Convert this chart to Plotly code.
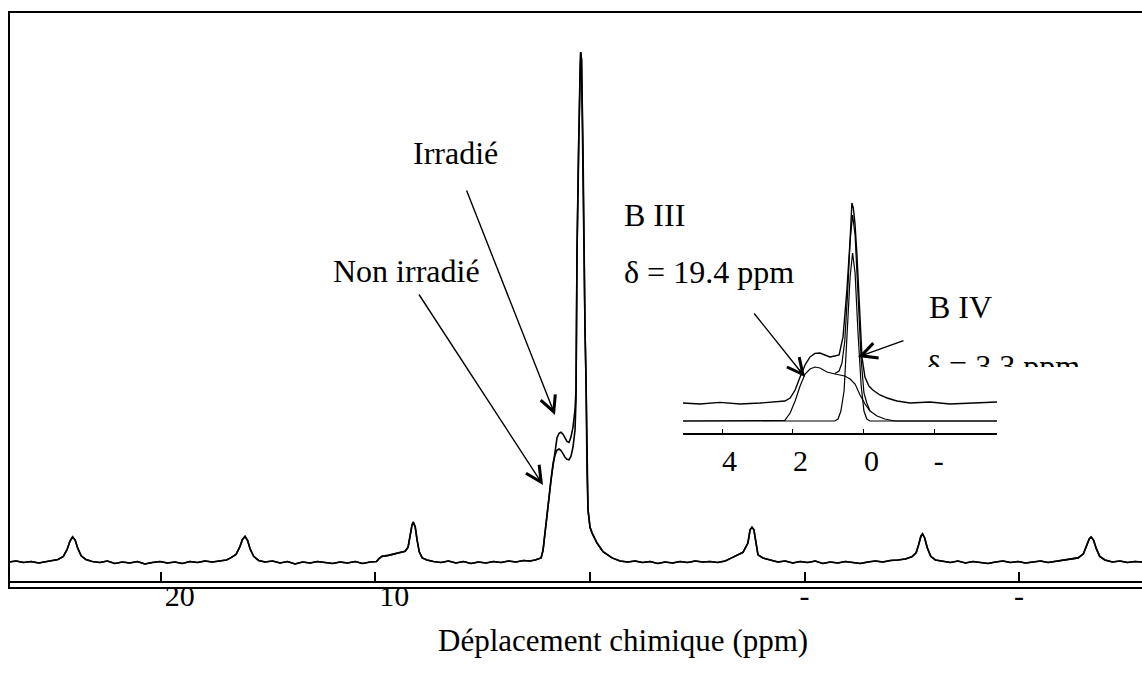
import plotly.graph_objects as go

# ---------------- main spectrum (chemical shift in ppm, normalised intensity) -------------
shift_ppm = [
    27.10, 26.75, 26.40, 26.05, 25.70, 25.35, 25.05,
    24.80, 24.55, 24.38, 24.24, 24.12, 24.00, 23.88, 23.72, 23.50, 23.20,
    22.85, 22.50, 22.15, 21.80, 21.45, 21.10, 20.75, 20.40, 20.05, 19.70, 19.35, 19.00,
    18.65, 18.30, 17.95, 17.60, 17.25, 16.95,
    16.75, 16.50, 16.33, 16.20, 16.08, 15.96, 15.84, 15.68, 15.45, 15.15,
    14.80, 14.45, 14.10, 13.75, 13.40, 13.05, 12.70, 12.35, 12.00, 11.65, 11.30, 10.95,
    10.60, 10.25, 9.95, 9.85, 9.70, 9.40, 9.10, 8.85, 8.62, 8.48, 8.38, 8.30, 8.24,
    8.15, 8.06, 7.96, 7.82, 7.60, 7.30, 6.95, 6.60, 6.25, 5.90, 5.55, 5.20, 4.85,
    4.50, 4.15, 3.80, 3.45, 3.10, 2.80, 2.56, 2.28, 2.19, 2.05, 1.96, 1.82, 1.72,
    0.606, 0.536, 0.466, 0.434, 0.396, 0.326, 0.280, 0.233, 0.186, 0.140, 0.093,
    0.000, -0.093, -0.326, -0.606, -1.026, -1.400, -1.75, -2.10, -2.45, -2.80,
    -3.15, -3.50, -3.85, -4.20, -4.55, -4.90, -5.25, -5.60, -5.95, -6.30, -6.60,
    -6.85, -7.13, -7.36, -7.46, -7.55, -7.64, -7.74, -7.83, -8.06, -8.39, -8.75,
    -9.10, -9.45, -9.80, -10.15, -10.50, -10.85, -11.20, -11.55, -11.90, -12.25,
    -12.60, -12.95, -13.30, -13.65, -14.00, -14.35, -14.70, -15.00, -15.20, -15.32,
    -15.42, -15.50, -15.60, -15.72, -15.88, -16.10, -16.45, -16.80, -17.15, -17.50,
    -17.85, -18.20, -18.55, -18.90, -19.25, -19.60, -19.95, -20.30, -20.65, -21.00,
    -21.35, -21.70, -22.05, -22.40, -22.75, -23.00, -23.15, -23.27, -23.36, -23.47,
    -23.60, -23.76, -24.00, -24.35, -24.70, -25.05, -25.40, -25.75,
]
intensity = [
    0.002, 0.004, 0.001, 0.003, 0.000, 0.003, 0.005,
    0.007, 0.013, 0.026, 0.043, 0.051, 0.045, 0.029, 0.014, 0.007, 0.003,
    0.001, 0.004, -0.001, 0.002, 0.000, 0.003, -0.002, 0.001, 0.003, 0.000, 0.002, -0.001,
    0.003, 0.001, 0.004, 0.002, 0.004, 0.006,
    0.010, 0.017, 0.031, 0.046, 0.052, 0.044, 0.027, 0.013, 0.005, 0.002,
    0.004, 0.000, 0.003, -0.002, 0.002, 0.000, 0.003, 0.001, -0.001, 0.002, 0.000, 0.003,
    -0.001, 0.002, 0.003, 0.008, 0.013, 0.015, 0.018, 0.020, 0.023, 0.031, 0.055, 0.074, 0.080,
    0.071, 0.045, 0.022, 0.010, 0.006, 0.003, 0.001, 0.004, 0.000, 0.003, -0.001, 0.002, 0.000,
    0.003, 0.001, 0.004, 0.002, 0.005, 0.004, 0.006, 0.010, 0.025, 0.070, 0.110, 0.162, 0.196,
    0.610, 0.810, 0.965, 1.000, 0.985, 0.810, 0.610, 0.456, 0.358, 0.180, 0.104,
    0.070, 0.059, 0.039, 0.022, 0.010, 0.004, 0.002, 0.004, 0.001, 0.003,
    -0.001, 0.002, 0.000, 0.003, 0.001, 0.004, 0.002, 0.003, 0.001, 0.004, 0.010,
    0.015, 0.021, 0.039, 0.065, 0.070, 0.065, 0.039, 0.016, 0.010, 0.006, 0.002,
    0.004, 0.000, 0.003, 0.001, 0.004, -0.001, 0.002, 0.000, 0.003, 0.001,
    -0.001, 0.002, 0.004, 0.002, 0.005, 0.006, 0.008, 0.012, 0.020, 0.036,
    0.052, 0.057, 0.049, 0.030, 0.013, 0.006, 0.003, 0.001, 0.004, 0.000,
    0.003, 0.001, -0.001, 0.002, 0.004, 0.001, 0.003, 0.000, 0.002, 0.004,
    0.001, 0.003, 0.005, 0.007, 0.010, 0.018, 0.033, 0.047, 0.051, 0.045,
    0.028, 0.013, 0.006, 0.002, 0.004, 0.001, 0.003, 0.002,
]
# shoulder (B III) where the two spectra differ
shoulder_ppm = [1.632, 1.538, 1.445, 1.352, 1.259, 1.166, 1.073, 0.979, 0.886, 0.793, 0.699, 0.653]
shoulder_irradie = [0.217, 0.245, 0.254, 0.256, 0.252, 0.245, 0.238, 0.236, 0.247, 0.266, 0.300, 0.339]
shoulder_non_irradie = [0.211, 0.221, 0.223, 0.220, 0.214, 0.207, 0.203, 0.202, 0.209, 0.227, 0.260, 0.319]

main_ticks = [20, 10, 0, -10, -20]
main_tick_labels = ["20", "10", "", "-", "-"]

# ---------------- inset: experimental spectrum and B III / B IV components --------------
inset_exp_x = [5.10, 4.62, 4.06, 3.49, 2.93, 2.51, 2.23, 2.08, 1.94, 1.80, 1.66, 1.52, 1.38,
               1.24, 1.10, 0.96, 0.82, 0.70, 0.59, 0.48, 0.39, 0.34, 0.30, 0.254, 0.197,
               0.155, 0.099, 0.056, -0.028, -0.14, -0.25, -0.45, -0.65, -0.93, -1.30,
               -1.86, -2.42, -3.13, -3.75]
inset_exp_y = [0.090, 0.085, 0.093, 0.085, 0.090, 0.095, 0.100, 0.115, 0.155, 0.220, 0.280,
               0.320, 0.338, 0.340, 0.330, 0.320, 0.325, 0.330, 0.420, 0.655, 0.905, 1.090,
               1.065, 0.990, 0.830, 0.655, 0.430, 0.320, 0.220, 0.175, 0.155, 0.130, 0.115,
               0.100, 0.090, 0.095, 0.085, 0.090, 0.095]
b3_x = [5.10, 2.37, 2.23, 2.08, 1.94, 1.80, 1.66, 1.52, 1.38, 1.24, 1.04, 0.82, 0.54, 0.39,
        0.25, 0.11, -0.03, -0.17, -0.37, -0.59, -0.87, -3.75]
b3_y = [0.0, 0.0, 0.003, 0.040, 0.100, 0.175, 0.235, 0.260, 0.270, 0.265, 0.245, 0.235,
        0.225, 0.210, 0.185, 0.130, 0.085, 0.050, 0.025, 0.010, 0.0, 0.0]
b4_x = [5.10, 0.82, 0.73, 0.65, 0.56, 0.48, 0.39, 0.32, 0.25, 0.17, 0.08, 0.00, -0.08, -0.17, -3.75]
b4_y = [0.0, 0.0, 0.010, 0.050, 0.150, 0.400, 0.720, 0.840, 0.740, 0.450, 0.180, 0.050, 0.010, 0.0, 0.0]
fit_x = [0.82, 0.70, 0.62, 0.54, 0.46, 0.39, 0.32, 0.25, 0.17, 0.08, 0.00, -0.08, -0.17]
fit_y = [0.237, 0.250, 0.290, 0.400, 0.640, 0.900, 1.030, 0.930, 0.640, 0.310, 0.140, 0.090, 0.050]

inset_ticks = [4, 2, 0, -2]
inset_tick_labels = ["4", "2", "0", "-"]

# ---------------- build ------------------------------------------------------------------
def merged(shoulder_vals):
    pts = list(zip(shift_ppm, intensity)) + list(zip(shoulder_ppm, shoulder_vals))
    pts.sort(key=lambda p: -p[0])
    return [p[0] for p in pts], [p[1] for p in pts]

FONT = "Liberation Serif"
L, T, W, H = 8, 12, 1134, 569      # plot area in pixels


def px(X):
    return (X - L) / W


def py(Y):
    return (T + H - Y) / H


fig = go.Figure()
for vals in (shoulder_non_irradie, shoulder_irradie):
    xs, ys = merged(vals)
    fig.add_trace(go.Scatter(x=xs, y=ys, mode="lines", line=dict(color="black", width=1.6),
                             showlegend=False, hoverinfo="skip"))

for xs, ys, w in ((b3_x, b3_y, 1.2), (b4_x, b4_y, 1.2), (fit_x, fit_y, 1.2), (inset_exp_x, inset_exp_y, 1.4)):
    fig.add_trace(go.Scatter(x=xs, y=ys, mode="lines", line=dict(color="black", width=w),
                             xaxis="x2", yaxis="y2", showlegend=False, hoverinfo="skip"))

# partially hidden label (clipped at the top of its frame, as in the original)
fig.add_trace(go.Scatter(x=[0.0], y=[-0.03], mode="text", text=["δ = 3.3 ppm"],
                         textposition="middle right", cliponaxis=True,
                         textfont=dict(family=FONT, size=32, color="black"),
                         xaxis="x3", yaxis="y3", showlegend=False, hoverinfo="skip"))

pad = "\u00a0" * 5
main_text = [(pad + t) if t not in ("", "-") else t for t in main_tick_labels]
inset_text = [("\u00a0\u00a0" + t) if t != "-" else ("\u00a0" + t) for t in inset_tick_labels]

fig.update_layout(
    width=1142, height=675,
    margin=dict(l=L, r=0, t=T, b=675 - T - H),
    paper_bgcolor="white", plot_bgcolor="white",
    font=dict(family=FONT, size=30, color="black"),
    xaxis=dict(range=[27.13, -25.73], tickvals=main_ticks, ticktext=main_text,
               ticks="inside", ticklen=9, tickwidth=1.5, tickcolor="black",
               showline=True, linewidth=2, linecolor="black", showgrid=False, zeroline=False,
               ticklabelstandoff=-13,
               tickfont=dict(family=FONT, size=30)),
    yaxis=dict(range=[-0.0352, 1.0783], visible=False),
    xaxis2=dict(domain=[px(683), px(997)], anchor="y2", range=[5.10, -3.75],
                tickvals=inset_ticks, ticktext=inset_text, ticks="inside", ticklen=4,
                tickwidth=1.2, tickcolor="black", showline=True, linewidth=2,
                linecolor="black", showgrid=False, zeroline=False,
                tickfont=dict(family=FONT, size=30)),
    yaxis2=dict(domain=[py(433), py(190)], anchor="x2", range=[-0.06, 1.155], visible=False),
    xaxis3=dict(domain=[px(926), 1.0], anchor="y3", range=[0, 1], visible=False),
    yaxis3=dict(domain=[py(367), py(300)], anchor="x3", range=[0, 1], visible=False),
)

# frame lines
line = dict(color="black", width=2)
fig.add_shape(type="line", xref="paper", yref="paper", x0=px(8), x1=1.0, y0=py(12), y1=py(12), line=line)
fig.add_shape(type="line", xref="paper", yref="paper", x0=px(9), x1=px(9), y0=py(12), y1=py(588), line=line)
fig.add_shape(type="line", xref="paper", yref="paper", x0=px(8), x1=1.0, y0=py(588), y1=py(588), line=line)

texts = [
    ("Irradié", 455, 153, "center", 32),
    ("Non irradié", 406, 271, "center", 32),
    ("B III", 622, 215, "left", 32),
    ("δ = 19.4 ppm", 622, 272, "left", 32),
    ("B IV", 927, 307, "left", 32),
    ("Déplacement chimique (ppm)", 623, 640, "center", 31),
]
for t, X, Y, anc, fs in texts:
    fig.add_annotation(text=t, x=px(X), y=py(Y), xref="paper", yref="paper",
                       xanchor=anc, yanchor="middle", showarrow=False,
                       font=dict(family=FONT, size=fs, color="black"))

arrows = [  # tip (px), tail offset (px)
    (555, 415, -89, -226),
    (543, 485, -125, -192),
    (805, 377, -52, -65),
    (858, 357, 47, -17),
]
for X, Y, ax, ay in arrows:
    fig.add_annotation(text="", x=px(X), y=py(Y), xref="paper", yref="paper",
                       ax=ax, ay=ay, showarrow=True, arrowhead=5, arrowsize=2.2,
                       arrowwidth=1.4, arrowcolor="black", standoff=0)

fig.write_html("out.html")
